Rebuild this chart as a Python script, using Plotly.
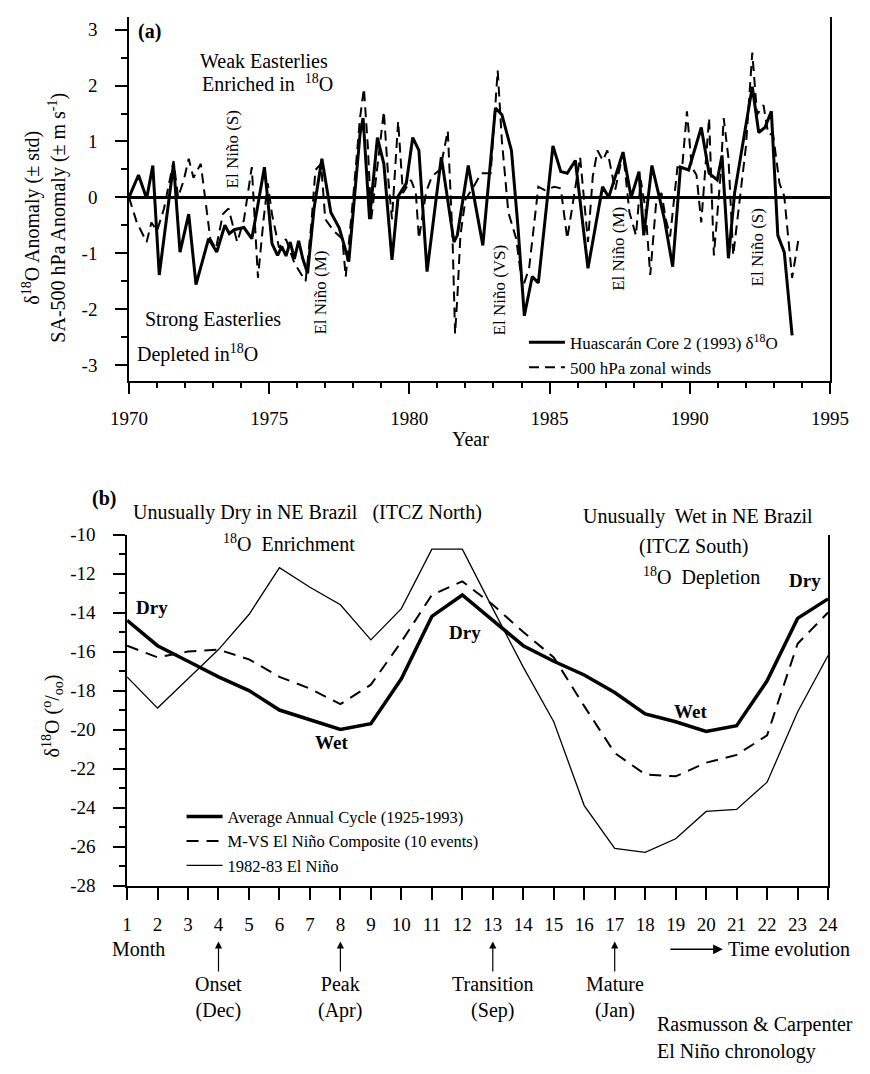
import plotly.graph_objects as go

# ---------------- Panel (a) data ----------------
core_years = [1970.00, 1970.34, 1970.63, 1970.85, 1971.08, 1971.59, 1971.82, 1972.13, 1972.39, 1972.84,
              1973.13, 1973.42, 1973.58, 1973.75, 1974.10, 1974.38, 1974.55, 1974.83, 1974.95, 1975.10,
              1975.30, 1975.45, 1975.60, 1975.75, 1975.90, 1976.05, 1976.20, 1976.37, 1976.60, 1976.88,
              1977.20, 1977.50, 1977.84, 1978.24, 1978.35, 1978.58, 1978.86, 1979.09, 1979.38, 1979.60,
              1979.89, 1980.12, 1980.34, 1980.63, 1981.14, 1981.59, 1981.71, 1982.10, 1982.62, 1983.07,
              1983.30, 1983.64, 1983.87, 1984.10, 1984.38, 1984.60, 1985.12, 1985.40, 1985.63, 1985.92,
              1986.37, 1986.89, 1987.11, 1987.62, 1987.91, 1988.19, 1988.36, 1988.65, 1988.88, 1989.10,
              1989.39, 1989.67, 1989.96, 1990.41, 1990.69, 1990.98, 1991.15, 1991.38, 1991.60, 1992.23,
              1992.46, 1992.68, 1992.91, 1993.14, 1993.37, 1993.65]
core_d18o = [0.00, 0.40, -0.02, 0.57, -1.39, 0.60, -0.98, -0.30, -1.56, -0.74,
             -0.98, -0.50, -0.65, -0.58, -0.54, -0.74, -0.27, 0.54, -0.04, -0.83,
             -1.04, -0.88, -1.05, -0.80, -1.10, -0.78, -1.10, -1.36, -0.20, 0.69,
             -0.27, -0.55, -1.15, 1.13, 1.42, -0.39, 1.07, 0.60, -1.12, 0.02,
             0.25, 1.07, 0.84, -1.33, 0.72, -0.80, -0.68, 0.57, -0.86, 1.60,
             1.48, 0.84, -0.51, -2.12, -1.42, -1.53, 0.92, 0.46, 0.43, 0.66,
             -1.27, 0.19, 0.00, 0.81, 0.00, 0.46, -0.68, 0.57, 0.08, -0.40,
             -1.24, 0.54, 0.49, 1.25, 0.43, 0.31, 0.75, -1.09, 0.08, 1.98,
             1.16, 1.25, 1.54, -0.68, -0.98, -2.47]

wind_years = [1970.00, 1970.28, 1970.63, 1970.80, 1971.00, 1971.25, 1971.59, 1971.75, 1971.95, 1972.13,
              1972.30, 1972.56, 1972.90, 1973.10, 1973.35, 1973.55, 1973.86, 1974.10, 1974.38, 1974.55,
              1974.60, 1974.80, 1974.95, 1975.10, 1975.35, 1975.60, 1975.90, 1976.30, 1976.50, 1976.65,
              1976.85, 1977.00, 1977.30, 1977.61, 1977.73, 1978.01, 1978.24, 1978.38, 1978.52, 1978.64,
              1978.86, 1979.09, 1979.26, 1979.38, 1979.60, 1979.77, 1980.06, 1980.23, 1980.34, 1980.60,
              1980.80, 1981.10, 1981.37, 1981.54, 1981.63, 1981.71, 1981.82, 1982.00, 1982.30, 1982.56,
              1982.90, 1983.15, 1983.30, 1983.53, 1983.81, 1984.04, 1984.27, 1984.60, 1984.83, 1985.17,
              1985.40, 1985.63, 1986.09, 1986.37, 1986.54, 1986.71, 1986.90, 1987.06, 1987.34, 1987.62,
              1987.85, 1988.08, 1988.25, 1988.42, 1988.59, 1988.80, 1988.99, 1989.15, 1989.30, 1989.56,
              1989.73, 1989.90, 1990.07, 1990.24, 1990.41, 1990.69, 1990.86, 1991.10, 1991.21, 1991.38,
              1991.55, 1991.80, 1992.00, 1992.23, 1992.40, 1992.63, 1992.80, 1992.97, 1993.20, 1993.37,
              1993.65, 1993.88]
wind_anom = [0.00, -0.45, -0.80, -0.45, -0.60, -0.20, 0.65, 0.00, 0.30, 0.69,
             0.35, 0.60, -0.74, -0.92, -0.30, -0.20, -0.80, -0.40, 0.54, -0.86,
             -1.44, -0.40, 0.25, -0.30, -0.90, -0.75, -1.18, -1.50, -0.50, 0.49,
             0.60, -0.39, -0.60, -0.74, -1.42, 0.08, 1.42, 1.95, 0.90, -0.39,
             0.60, 1.54, 0.25, -0.39, 1.36, 0.08, 0.31, 0.08, -0.74, 0.10,
             0.37, 0.50, 1.19, -0.74, -2.44, -1.80, -0.68, -0.04, 0.20, 0.43,
             0.43, 2.27, 1.01, -0.27, -0.74, -1.62, -1.27, 0.19, 0.13, 0.19,
             0.16, -0.74, 0.72, -0.80, 0.37, 0.84, 0.66, 0.84, 0.13, 0.81,
             -0.27, -0.68, 0.31, -0.20, -1.39, -0.10, 0.08, -0.40, -0.70, 0.54,
             0.54, 1.54, 0.54, 0.40, -0.45, 1.42, -1.04, 0.40, 1.42, 0.70,
             -1.04, 0.00, 0.90, 2.59, 1.48, 1.65, 1.13, 1.13, 0.25, 0.02,
             -1.44, -0.74]

a_ytick_vals = [-3, -2, -1, 0, 1, 2, 3]
a_ytick_text = ["-3", "-2", "-1", "0", "1", "2", "3"]

# ---------------- Panel (b) data ----------------
months = list(range(1, 25))
avg_cycle = [-14.4, -15.7, -16.5, -17.3, -18.0, -19.0, -19.5, -20.0, -19.7, -17.4, -14.2, -13.1,
             -14.4, -15.7, -16.5, -17.2, -18.1, -19.2, -19.6, -20.1, -19.8, -17.5, -14.3, -13.3]
mvs_composite = [-15.7, -16.3, -16.0, -15.9, -16.4, -17.3, -17.9, -18.7, -17.7, -15.5, -13.1, -12.4,
                 -13.6, -15.0, -16.3, -18.8, -21.2, -22.3, -22.4, -21.7, -21.3, -20.3, -15.6, -14.0]
nino_8283 = [-17.3, -18.9, -17.4, -15.9, -14.1, -11.7, -12.7, -13.6, -15.4, -13.8, -10.75, -10.75,
             -13.8, -16.8, -19.6, -23.9, -26.1, -26.3, -25.6, -24.2, -24.1, -22.7, -19.1, -16.2]
b_ytick_vals = [-28, -26, -24, -22, -20, -18, -16, -14, -12, -10]
b_ytick_text = ["-28", "-26", "-24", "-22", "-20", "-18", "-16", "-14", "-12", "-10"]

W, H = 870, 1074
FONT = "Liberation Serif"


def P(px, py):
    return px / W, 1 - py / H


fig = go.Figure()

fig.add_trace(go.Scatter(x=core_years, y=core_d18o, mode="lines",
                         name="Huascarán Core 2 (1993) δ<sup>18</sup>O",
                         line=dict(color="black", width=3), xaxis="x", yaxis="y", legend="legend"))
fig.add_trace(go.Scatter(x=wind_years, y=wind_anom, mode="lines",
                         name="500 hPa zonal winds",
                         line=dict(color="black", width=2, dash="10px,6px"), xaxis="x", yaxis="y",
                         legend="legend"))

fig.add_trace(go.Scatter(x=months, y=avg_cycle, mode="lines",
                         name="Average Annual Cycle (1925-1993)",
                         line=dict(color="black", width=3.5), xaxis="x2", yaxis="y2", legend="legend2"))
fig.add_trace(go.Scatter(x=months, y=mvs_composite, mode="lines",
                         name="M-VS El Niño Composite (10 events)",
                         line=dict(color="black", width=2, dash="12px,8px"), xaxis="x2", yaxis="y2",
                         legend="legend2"))
fig.add_trace(go.Scatter(x=months, y=nino_8283, mode="lines",
                         name="1982-83 El Niño",
                         line=dict(color="black", width=1.3), xaxis="x2", yaxis="y2", legend="legend2"))

tickfont = dict(family=FONT, size=19, color="black")
common = dict(showline=True, linecolor="black", linewidth=1.5, ticks="outside", tickcolor="black",
              tickwidth=1.5, showgrid=False, tickfont=tickfont)

fig.update_layout(
    width=W, height=H,
    margin=dict(l=0, r=0, t=0, b=0),
    paper_bgcolor="white", plot_bgcolor="white",
    font=dict(family=FONT, size=19, color="black"),
    showlegend=True,
    xaxis=dict(domain=[115 / W, 848 / W], range=[1970, 1995], anchor="y", tick0=1970, dtick=5,
               ticklen=12, zeroline=False, ticklabelstandoff=8,
               minor=dict(ticks="outside", ticklen=6, dtick=1, tickwidth=1.5, tickcolor="black"),
               **common),
    yaxis=dict(domain=[1 - 378 / H, 1 - 7 / H], range=[-3.28, 3.23], anchor="x",
               tickmode="array", tickvals=a_ytick_vals, ticktext=a_ytick_text,
               ticklen=12, mirror=True, zeroline=True, zerolinecolor="black", zerolinewidth=3,
               ticklabelstandoff=14,
               minor=dict(ticks="outside", ticklen=6, dtick=0.5, tick0=0, tickwidth=1.5,
                          tickcolor="black"),
               **common),
    xaxis2=dict(domain=[113 / W, 846 / W], range=[1, 24], anchor="y2", tick0=1, dtick=1,
                ticklen=13, zeroline=False, ticklabelstandoff=8, **common),
    yaxis2=dict(domain=[1 - 893 / H, 1 - 535 / H], range=[-28, -10], anchor="x2",
                tickmode="array", tickvals=b_ytick_vals, ticktext=b_ytick_text,
                ticklen=12, mirror=True, zeroline=False, ticklabelstandoff=14,
                minor=dict(ticks="outside", ticklen=6, dtick=1, tick0=0, tickwidth=1.5,
                           tickcolor="black"),
                **common),
    legend=dict(x=P(528, 0)[0], y=P(0, 321)[1], xanchor="left", yanchor="top",
                bgcolor="rgba(0,0,0,0)", font=dict(family=FONT, size=17), tracegroupgap=0,
                itemwidth=36),
    legend2=dict(x=P(170, 0)[0], y=P(0, 805)[1], xanchor="left", yanchor="top",
                 bgcolor="rgba(0,0,0,0)", font=dict(family=FONT, size=16.5), tracegroupgap=0,
                 itemwidth=36),
)

ann = []


def txt(text, x, y, xref="paper", yref="paper", size=19, angle=0, xanchor="center", bold=False):
    if bold:
        text = "<b>" + text + "</b>"
    ann.append(dict(text=text, x=x, y=y, xref=xref, yref=yref, showarrow=False,
                    font=dict(family=FONT, size=size, color="black"), textangle=angle,
                    xanchor=xanchor, yanchor="middle"))


# Panel (a) texts (data coordinates)
txt("(a)", 1970.72, 2.96, "x", "y", size=20, bold=True)
txt("Weak Easterlies", 1974.81, 2.44, "x", "y", size=20)
txt("Enriched in  <sup>18</sup>O", 1974.95, 2.04, "x", "y", size=20)
txt("Strong Easterlies", 1973.0, -2.18, "x", "y", size=20)
txt("Depleted in<sup>18</sup>O", 1972.46, -2.79, "x", "y", size=20)
txt("El Niño (S)", 1973.68, 0.86, "x", "y", size=17, angle=-90)
txt("El Niño (M)", 1976.82, -1.70, "x", "y", size=17, angle=-90)
txt("El Niño (VS)", 1983.23, -1.65, "x", "y", size=17, angle=-90)
txt("El Niño (M)", 1987.46, -0.93, "x", "y", size=17, angle=-90)
txt("El Niño (S)", 1992.41, -0.89, "x", "y", size=17, angle=-90)
txt("Year", *P(472, 438), size=20)
txt("δ<sup>18</sup>O Anomaly (± std)<br>SA-500 hPa Anomaly (± m s<sup>-1</sup>)", *P(27, 212),
    size=20, angle=-90)

# Panel (b) texts
txt("(b)", *P(89, 498), size=20, bold=True)
txt("Unusually Dry in NE Brazil   (ITCZ North)", *P(117, 513), size=20, xanchor="left")
txt("<sup>18</sup>O  Enrichment", 6.3, -10.45, "x2", "y2", size=20)
txt("Unusually  Wet in NE Brazil", *P(710, 517), size=20)
txt("(ITCZ South)", 19.6, -10.6, "x2", "y2", size=20)
txt("<sup>18</sup>O  Depletion", 19.86, -12.16, "x2", "y2", size=20)
txt("Dry", 23.25, -12.36, "x2", "y2", size=19, bold=True)
txt("Dry", 1.82, -13.72, "x2", "y2", size=19, bold=True)
txt("Dry", 12.1, -15.03, "x2", "y2", size=19, bold=True)
txt("Wet", 7.71, -20.65, "x2", "y2", size=19, bold=True)
txt("Wet", 19.5, -19.1, "x2", "y2", size=19, bold=True)
txt("δ<sup>18</sup>O (<sup>o</sup>/<sub>oo</sub>)", *P(35, 720), size=20, angle=-90)
txt("Month", *P(125, 958), size=20)
txt("Time evolution", *P(739, 958), size=20, xanchor="left")
txt("Rasmusson & Carpenter", *P(665, 1035), size=20, xanchor="left")
txt("El Niño chronology", *P(665, 1062), size=20, xanchor="left")

# Chronology arrows
phases = [(4, "Onset<br>(Dec)"), (8, "Peak<br>(Apr)"), (13, "Transition<br>(Sep)"), (17, "Mature<br>(Jan)")]
for m, label in phases:
    ann.append(dict(text=label, x=m, y=P(0, 950)[1], xref="x2", yref="paper", showarrow=True,
                    ax=0, ay=56, arrowhead=2, arrowsize=1.2, arrowwidth=1.2, arrowcolor="black",
                    font=dict(family=FONT, size=20, color="black"), standoff=0, startstandoff=0))
ann.append(dict(text="", x=P(736, 0)[0], y=P(0, 958)[1], xref="paper", yref="paper", showarrow=True,
                ax=-54, ay=0, arrowhead=2, arrowsize=1.3, arrowwidth=1.5, arrowcolor="black"))

fig.update_layout(annotations=ann)

fig.write_html("out.html",
               post_script="document.body.style.margin='0';document.body.style.padding='0';")
